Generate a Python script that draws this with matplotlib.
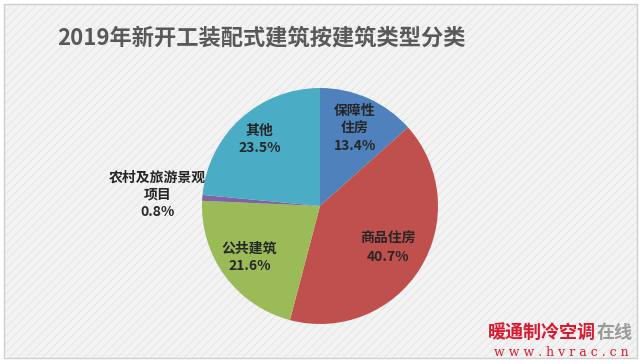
import matplotlib
matplotlib.use("Agg")
import matplotlib.pyplot as plt
from matplotlib.patches import Rectangle
import numpy as np

plt.rcParams['font.family'] = ['Noto Sans CJK SC', 'DejaVu Sans']
plt.rcParams['hatch.linewidth'] = 0.6

title = "2019年新开工装配式建筑按建筑类型分类"
categories = ["保障性\n住房", "商品住房", "公共建筑", "农村及旅游景观\n项目", "其他"]
values = [13.4, 40.7, 21.6, 0.8, 23.5]
colors = ["#4F81BD", "#C0504D", "#9BBB59", "#8064A2", "#4BACC6"]
label_r = [0.72, 0.68, 0.74, 1.38, 0.76]

W, H = 641, 364
fig = plt.figure(figsize=(W / 100, H / 100), dpi=100)
fig.patch.set_facecolor("white")
ax = fig.add_axes([0, 0, 1, 1])
ax.set_xlim(0, W)
ax.set_ylim(0, H)
ax.axis("off")

bg = Rectangle((4, 6), 633, 354, facecolor="#f3f3f3", edgecolor="#e2e2e2",
               hatch="////", linewidth=0, zorder=0)
ax.add_patch(bg)
border = Rectangle((4, 6), 633, 354, facecolor="none", edgecolor="#cfcfcf",
                   linewidth=1.0, zorder=1)
ax.add_patch(border)

cx, cy, R = 320, H - 206, 118
wedges, _ = ax.pie(values, colors=colors, startangle=90, counterclock=False,
                   center=(cx, cy), radius=R, frame=False,
                   wedgeprops=dict(linewidth=0, edgecolor="none", zorder=2))
ax.set_xlim(0, W)
ax.set_ylim(0, H)
ax.set_aspect("auto")

for w, cat, v, lr in zip(wedges, categories, values, label_r):
    ang = np.deg2rad((w.theta1 + w.theta2) / 2)
    x = cx + lr * R * np.cos(ang)
    y = cy + lr * R * np.sin(ang)
    ax.text(x, y, f"{cat}\n{v:.1f}%", ha="center", va="center", fontsize=10,
            fontweight="bold", color="#262626", linespacing=1.3, zorder=3)

ax.text(261, H - 38, title, ha="center", va="center", fontsize=16,
        fontweight="bold", color="#595959", zorder=3)

ax.text(488, H - 332, "暖通制冷空调", ha="left", va="center", fontsize=13,
        fontweight="bold", color="#d8192f", zorder=3)
ax.text(597, H - 332, "在线", ha="left", va="center", fontsize=13,
        fontweight="bold", color="#9a9a9a", zorder=3)
ax.text(561, H - 352, "w w w . h v r a c . c n", ha="center", va="center",
        fontsize=9, family=["DejaVu Serif"], color="#d8192f", zorder=3)

fig.savefig("out.png", dpi=100, facecolor=fig.get_facecolor())
